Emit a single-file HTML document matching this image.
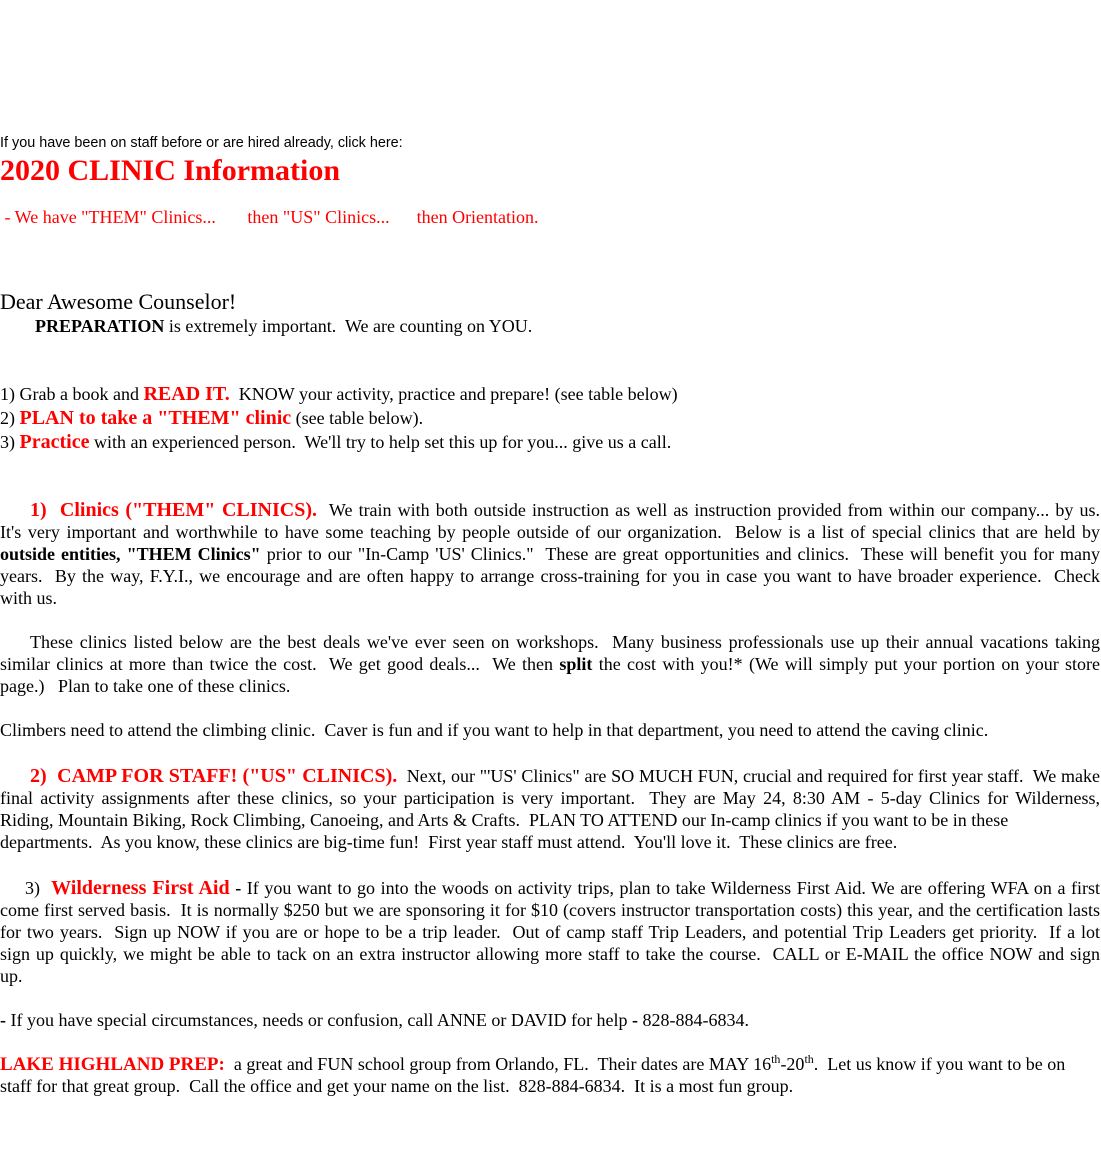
<!DOCTYPE html>
<html><head><meta charset="utf-8"><style>
body{margin:0;width:1101px;height:1158px;background:#fff;position:relative;overflow:hidden;font-family:"Liberation Serif",serif;font-size:18px;color:#000}
.l{position:absolute;left:0;white-space:nowrap;line-height:22px}
.j{width:1100px;text-align:justify;text-align-last:justify}
.r{color:#f00}
.rb{color:#f00;font-weight:bold;font-size:20px}
b{font-weight:bold}
sup{font-size:12px;line-height:0}
</style></head><body>
<div class="l" style="top:135px;font-family:'Liberation Sans',sans-serif;font-size:14.4px;line-height:16px">If you have been on staff before or are hired already, click here:</div>
<div class="l" style="top:152px;font-size:30px;line-height:38px;font-weight:bold;color:#f00">2020 CLINIC Information</div>
<div class="l r" style="top:206px;font-size:18px">&nbsp;- We have "THEM" Clinics...&nbsp;&nbsp;&nbsp;&nbsp;&nbsp;&nbsp; then "US" Clinics...&nbsp;&nbsp;&nbsp;&nbsp;&nbsp; then Orientation.</div>
<div class="l" style="top:290px;font-size:22px;line-height:24px">Dear Awesome Counselor!</div>
<div class="l" style="top:315px;left:35px"><b>PREPARATION</b> is extremely important.&nbsp; We are counting on YOU.</div>
<div class="l" style="top:383px">1) Grab a book and <span class="rb">READ IT.</span>&nbsp; KNOW your activity, practice and prepare! (see table below)</div>
<div class="l" style="top:407px">2) <span class="rb">PLAN to take a "THEM" clinic</span> (see table below).</div>
<div class="l" style="top:431px">3) <span class="rb">Practice</span> with an experienced person.&nbsp; We'll try to help set this up for you... give us a call.</div>

<div class="l j" style="top:499px"><span style="display:inline-block;width:30px"></span><span class="rb">1)&nbsp; Clinics ("THEM" CLINICS).</span>&nbsp; We train with both outside instruction as well as instruction provided from within our company... by us.</div>
<div class="l j" style="top:521px">It's very important and worthwhile to have some teaching by people outside of our organization.&nbsp; Below is a list of special clinics that are held by</div>
<div class="l j" style="top:543px"><b>outside entities, "THEM Clinics"</b> prior to our "In-Camp 'US' Clinics."&nbsp; These are great opportunities and clinics.&nbsp; These will benefit you for many</div>
<div class="l j" style="top:565px">years.&nbsp; By the way, F.Y.I., we encourage and are often happy to arrange cross-training for you in case you want to have broader experience.&nbsp; Check</div>
<div class="l" style="top:587px">with us.</div>

<div class="l j" style="top:631px"><span style="display:inline-block;width:30px"></span>These clinics listed below are the best deals we've ever seen on workshops.&nbsp; Many business professionals use up their annual vacations taking</div>
<div class="l j" style="top:653px">similar clinics at more than twice the cost.&nbsp; We get good deals...&nbsp; We then <b>split</b> the cost with you!* (We will simply put your portion on your store</div>
<div class="l" style="top:675px">page.)&nbsp;&nbsp; Plan to take one of these clinics.</div>

<div class="l" style="top:719px">Climbers need to attend the climbing clinic.&nbsp; Caver is fun and if you want to help in that department, you need to attend the caving clinic.</div>

<div class="l j" style="top:765px"><span style="display:inline-block;width:30px"></span><span class="rb">2)&nbsp; CAMP FOR STAFF! ("US" CLINICS).</span>&nbsp; Next, our "'US' Clinics" are SO MUCH FUN, crucial and required for first year staff.&nbsp; We make</div>
<div class="l j" style="top:787px">final activity assignments after these clinics, so your participation is very important.&nbsp; They are May 24, 8:30 AM - 5-day Clinics for Wilderness,</div>
<div class="l" style="top:809px">Riding, Mountain Biking, Rock Climbing, Canoeing, and Arts &amp; Crafts.&nbsp; PLAN TO ATTEND our In-camp clinics if you want to be in these</div>
<div class="l" style="top:831px">departments.&nbsp; As you know, these clinics are big-time fun!&nbsp; First year staff must attend.&nbsp; You'll love it.&nbsp; These clinics are free.</div>

<div class="l j" style="top:877px"><span style="display:inline-block;width:25px"></span>3)&nbsp; <span class="rb">Wilderness First Aid</span> <b>-</b> If you want to go into the woods on activity trips, plan to take Wilderness First Aid. We are offering WFA on a first</div>
<div class="l j" style="top:899px">come first served basis.&nbsp; It is normally $250 but we are sponsoring it for $10 (covers instructor transportation costs) this year, and the certification lasts</div>
<div class="l j" style="top:921px">for two years.&nbsp; Sign up NOW if you are or hope to be a trip leader.&nbsp; Out of camp staff Trip Leaders, and potential Trip Leaders get priority.&nbsp; If a lot</div>
<div class="l j" style="top:943px">sign up quickly, we might be able to tack on an extra instructor allowing more staff to take the course.&nbsp; CALL or E-MAIL the office NOW and sign</div>
<div class="l" style="top:965px">up.</div>

<div class="l" style="top:1009px"><b>-</b> If you have special circumstances, needs or confusion, call ANNE or DAVID for help <b>-</b> 828-884-6834.</div>

<div class="l" style="top:1053px"><span class="rb" style="font-size:19px">LAKE HIGHLAND PREP:</span>&nbsp; a great and FUN school group from Orlando, FL.&nbsp; Their dates are MAY 16<sup>th</sup>-20<sup>th</sup>.&nbsp; Let us know if you want to be on</div>
<div class="l" style="top:1075px">staff for that great group.&nbsp; Call the office and get your name on the list.&nbsp; 828-884-6834.&nbsp; It is a most fun group.</div>
</body></html>
